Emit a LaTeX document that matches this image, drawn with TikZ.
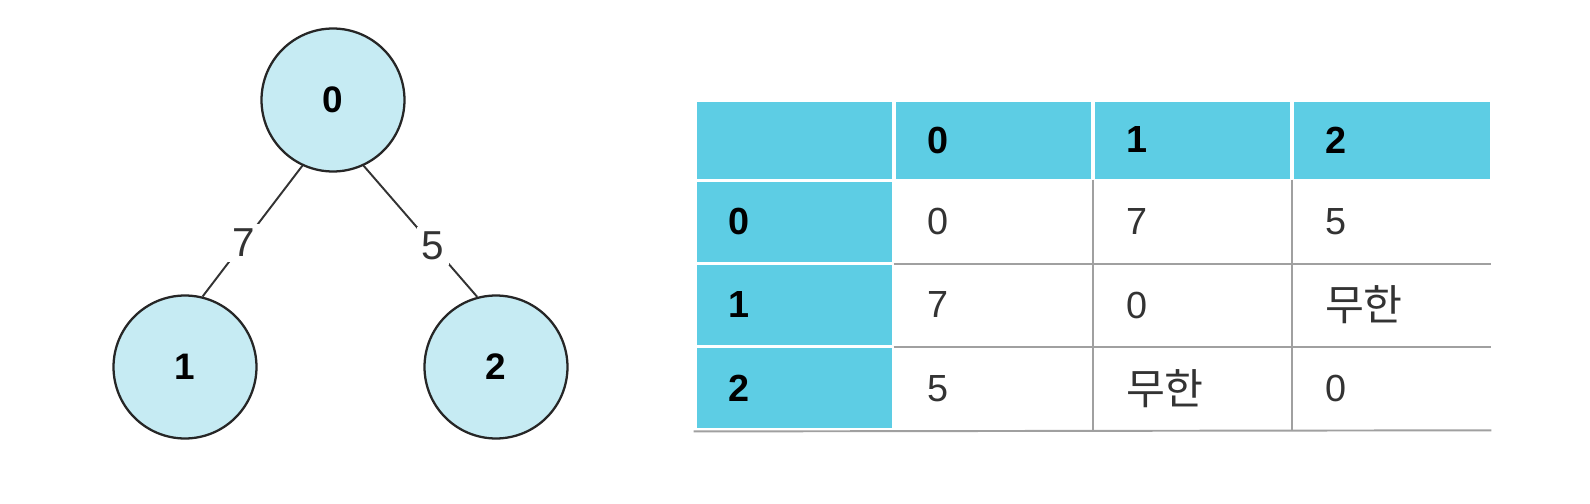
\documentclass[tikz,border=0pt]{standalone}
\usepackage{fontspec}
\setmainfont{Liberation Sans}
\newfontfamily\krfont{Noto Sans CJK KR}[Scale=1.12]
\definecolor{vtxfill}{HTML}{C6EBF3}
\definecolor{hdfill}{HTML}{5DCDE4}
\definecolor{gridgray}{HTML}{A0A0A0}
\definecolor{txtgray}{HTML}{333333}
\begin{document}
\begin{tikzpicture}[x=0.02cm, y=-0.02cm,
  vtx/.style={circle, minimum size=2.86cm, inner sep=0pt, fill=vtxfill, draw=black!85, line width=1.3pt, font=\fontsize{21}{24}\selectfont\bfseries},
  edge/.style={draw=black!80, line width=1.1pt},
  wt/.style={fill=white, inner sep=0.1cm, text=txtgray, font=\fontsize{23}{26}\selectfont},
  hd/.style={rectangle, fill=hdfill, draw=white, line width=1.7pt, minimum width=3.98cm, text width=2.66cm, inner xsep=0.66cm, align=left, font=\fontsize{21.5}{24}\selectfont\bfseries},
  cell/.style={rectangle, minimum width=3.98cm, text width=2.66cm, inner xsep=0.66cm, align=left, text=txtgray, font=\fontsize{21.5}{24}\selectfont},
  grid/.style={draw=gridgray, line width=1.1pt}]
\useasboundingbox (0,0) rectangle (1590,504);
\node[vtx] (v0) at (333,100){0};
\node[vtx] (v1) at (185,367){1};
\node[vtx] (v2) at (496,367){2};
\draw[edge](v0.245) -- node[wt, pos=.59]{7} (v1.76);
\draw[edge](v0.295) -- node[wt, pos=.61]{5} (v2.105);
\node[hd, minimum height=1.6cm] (c00) at (794.5,140){};
\node[hd, minimum height=1.6cm] (c01) at (993.5,140){0};
\node[hd, minimum height=1.6cm] (c02) at (1192.5,140){1};
\node[hd, minimum height=1.6cm] (c03) at (1391.5,140){2};
\node[hd, minimum height=1.666cm] (c10) at (794.5,221.7){0};
\node[cell, minimum height=1.666cm] (c11) at (993.5,221.7){0};
\node[cell, minimum height=1.666cm] (c12) at (1192.5,221.7){7};
\node[cell, minimum height=1.666cm] (c13) at (1391.5,221.7){5};
\node[hd, minimum height=1.666cm] (c20) at (794.5,305){1};
\node[cell, minimum height=1.666cm] (c21) at (993.5,305){7};
\node[cell, minimum height=1.666cm] (c22) at (1192.5,305){0};
\node[cell, minimum height=1.666cm] (c23) at (1391.5,305){\krfont 무한};
\node[hd, minimum height=1.666cm] (c30) at (794.5,388.3){2};
\node[cell, minimum height=1.666cm] (c31) at (993.5,388.3){5};
\node[cell, minimum height=1.666cm] (c32) at (1192.5,388.3){\krfont 무한};
\node[cell, minimum height=1.666cm] (c33) at (1391.5,388.3){0};
\draw[grid](c11.north east) -- (c31.south east);
\draw[grid](c12.north east) -- (c32.south east);
\draw[grid](c11.south west) -- (c13.south east);
\draw[grid](c21.south west) -- (c23.south east);
\draw[grid](c30.south west) -- (c33.south east);
\end{tikzpicture}
\end{document}
